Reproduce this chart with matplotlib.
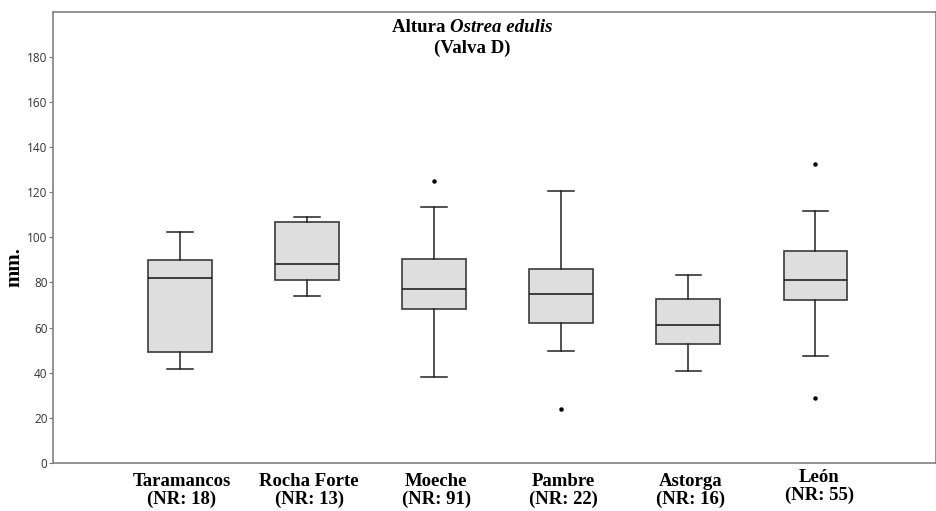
import matplotlib
matplotlib.use("Agg")
import matplotlib.pyplot as plt

sites = ["Taramancos", "Rocha Forte", "Moeche", "Pambre", "Astorga", "León"]
nr = [18, 13, 91, 22, 16, 55]
whislo = [41.6, 73.9, 37.9, 49.5, 40.7, 47.6]
q1 = [49.0, 80.9, 68.2, 62.0, 52.8, 72.2]
med = [82.0, 88.3, 76.9, 75.1, 61.1, 81.3]
q3 = [89.8, 106.7, 90.3, 85.8, 72.9, 94.0]
whishi = [102.2, 109.1, 113.3, 120.4, 83.5, 111.6]
fliers = [[], [], [124.8], [24.0], [], [132.5, 28.7]]
yticks = [0, 20, 40, 60, 80, 100, 120, 140, 160, 180]

W, H = 936, 511
fig = plt.figure(figsize=(W / 100, H / 100), dpi=100)
ax = fig.add_axes([53 / W, (H - 463) / H, (936 - 53) / W, (463 - 11.7) / H])

stats = []
for i in range(len(sites)):
    stats.append(dict(med=med[i], q1=q1[i], q3=q3[i], whislo=whislo[i],
                      whishi=whishi[i], fliers=fliers[i], label=sites[i]))

edge = "#3a3a3a"
ax.bxp(stats, positions=range(1, len(sites) + 1), widths=0.5, capwidths=0.2,
       patch_artist=True,
       boxprops=dict(facecolor="#dedede", edgecolor=edge, linewidth=1.2),
       medianprops=dict(color="#222222", linewidth=1.2),
       whiskerprops=dict(color="#222222", linewidth=1.1),
       capprops=dict(color="#222222", linewidth=1.1),
       flierprops=dict(marker="o", markersize=2.2, markerfacecolor="black",
                       markeredgecolor="black"))

ax.set_xlim(0, 6.95)
ax.set_ylim(0, 200)
ax.set_yticks(yticks)
ax.set_yticklabels([str(v) for v in yticks], fontsize=8.5, color="#333333",
                   family="Open Sans")
ax.tick_params(axis="y", length=3, width=0.8, color="#777777", pad=1)
ax.set_xticks([])
for s in ["left", "top", "bottom", "right"]:
    ax.spines[s].set_color("#808080")
    ax.spines[s].set_linewidth(1.2)

fig.text(14 / W, 1 - 267 / H, "mm.", rotation=90, ha="center", va="center",
         fontsize=15, fontweight="bold", family="Liberation Serif")

for i, (s, n) in enumerate(zip(sites, nr)):
    xx = i + 1
    dy = 4 if s == "León" else 0
    dx = 4 if s == "León" else 2
    ax.annotate(f"{s}\n(NR: {n})", xy=(xx, 0), xycoords=("data", "axes fraction"),
                xytext=(dx * 0.72, -7.5 + dy * 0.72), textcoords="offset points",
                ha="center", va="top", fontsize=13.5, fontweight="bold",
                family="Liberation Serif", linespacing=1.05, annotation_clip=False)

# title (two-part first line, centred at x=472 px)
fs = 13.6
t1 = fig.text(0, 1 - 27 / H, "Altura ", ha="left", va="center",
              fontsize=fs, fontweight="bold", family="Liberation Serif")
t2 = fig.text(0, 1 - 27 / H, "Ostrea edulis", ha="left", va="center",
              fontsize=fs, fontweight="bold", style="italic", family="Liberation Serif")
fig.canvas.draw()
r = fig.canvas.get_renderer()
w1 = t1.get_window_extent(r).width
w2 = t2.get_window_extent(r).width
x0 = 472 - (w1 + w2) / 2
t1.set_x(x0 / W)
t2.set_x((x0 + w1) / W)
fig.text(472 / W, 1 - 48 / H, "(Valva D)", ha="center", va="center",
         fontsize=fs, fontweight="bold", family="Liberation Serif")

fig.savefig("out.png", dpi=100, facecolor="white")
